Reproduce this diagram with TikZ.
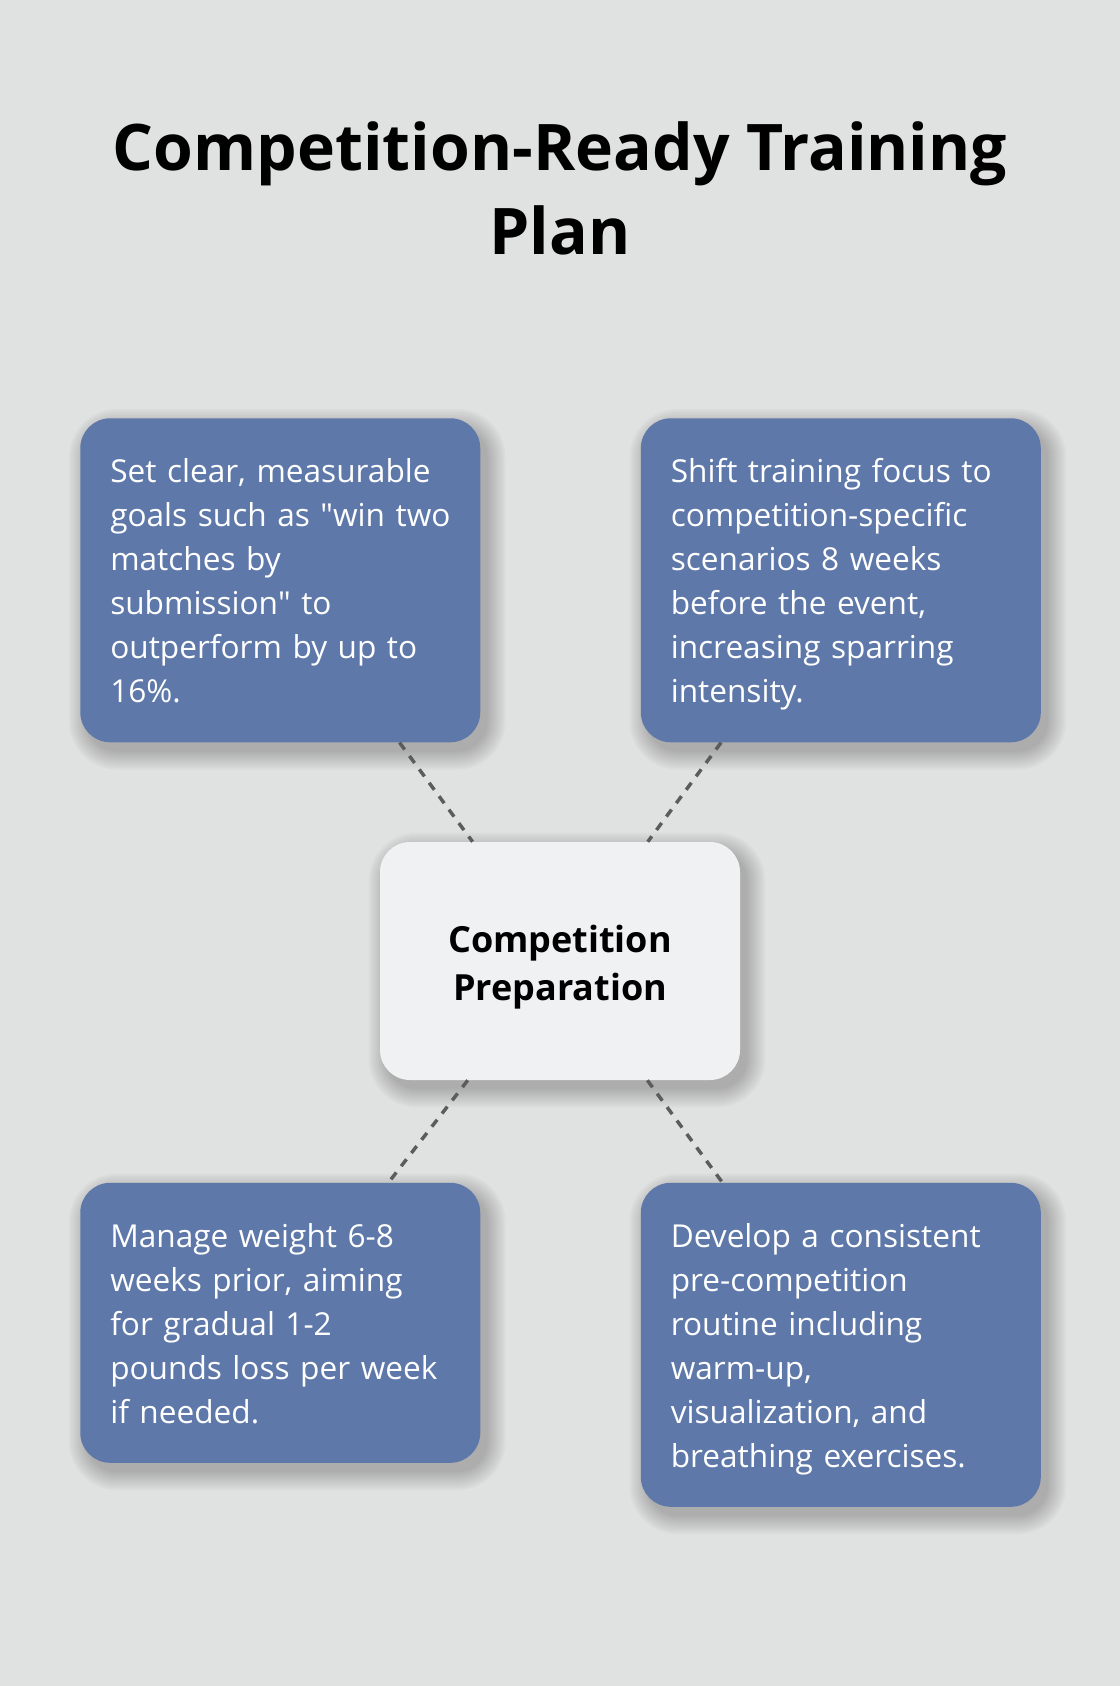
\documentclass[tikz,border=0pt]{standalone}
\usepackage{fontspec}
\setmainfont{Open Sans}
\usepackage{tikz}
\usetikzlibrary{positioning,backgrounds}
\definecolor{paper}{HTML}{E0E2E1}
\definecolor{cardblue}{HTML}{5E78A9}
\definecolor{hubgray}{HTML}{F0F1F3}
\definecolor{linkgray}{HTML}{5C5C5C}
\newcommand{\cardstrut}{\rule[-7.2pt]{0pt}{33pt}}
\newcommand{\hubstrut}{\rule[-6.5pt]{0pt}{36pt}}
\newcommand{\titlestrut}{\rule[-15pt]{0pt}{63pt}}
\tikzset{
  heading/.style={anchor=north, align=center, inner sep=0pt,
    font=\bfseries\fontsize{48.2pt}{63pt}\selectfont},
  card/.style={fill=cardblue, text=white, rounded corners=22.5pt,
    text width=255pt, inner xsep=22.5pt, inner ysep=22.5pt, align=left,
    font=\fontsize{23.7pt}{33pt}\selectfont},
  hub/.style={fill=hubgray, rounded corners=22.5pt, inner sep=0pt,
    minimum width=270pt, minimum height=178.5pt, align=center,
    font=\bfseries\fontsize{27pt}{36pt}\selectfont},
  link/.style={draw=linkgray, line width=2.6pt, dash pattern=on 6.5pt off 6pt},
  haze/.style={fill=black, opacity=0.024},
}

\begin{document}
\begin{tikzpicture}[x=0.75pt, y=-0.75pt]

  % Page
  \useasboundingbox (0,0) rectangle (1120,1686);

  % Define nodes
  \node[heading] (title) at (560,106.7) {\titlestrut Competition-Ready Training\\Plan\titlestrut};
  \node[hub] (prep) at (560,961) {\hubstrut Competition\\Preparation\hubstrut};
  \node[card, anchor=north west] (goals) at (80,418) {\cardstrut Set clear, measurable\\\mbox{goals such as \textquotedbl win two}\\matches by\\submission\textquotedbl{} to\\outperform by up to\\16\%.\cardstrut};
  \node[card, right=120pt of goals] (focus) {\cardstrut Shift training focus to\\competition-specific\\scenarios 8 weeks\\before the event,\\increasing sparring\\intensity.\cardstrut};
  \node[card, below=330pt of goals] (weight) {\cardstrut Manage weight 6-8\\weeks prior, aiming\\for gradual 1-2\\pounds loss per week\\if needed.\cardstrut};
  \node[card, below=330pt of focus] (routine) {\cardstrut Develop a consistent\\pre-competition\\routine including\\warm-up,\\visualization, and\\breathing exercises.\cardstrut};

  % Connect the nodes
  \draw[link] (goals) -- (prep);
  \draw[link] (focus) -- (prep);
  \draw[link] (prep) -- (weight);
  \draw[link] (prep) -- (routine);

  % Page and soft shadows
  \begin{pgfonlayer}{background}
    \fill[paper] (0,0) rectangle (1120,1686);
    \foreach \card in {goals,focus,weight,routine,prep}
      \foreach \e in {0,2,...,18}
        \fill[haze, rounded corners={22.5pt+0.75pt*\e}]
          ([shift={(7-\e,9-\e)}]\card.north west) rectangle ([shift={(7+\e,9+\e)}]\card.south east);
  \end{pgfonlayer}

\end{tikzpicture}
\end{document}
